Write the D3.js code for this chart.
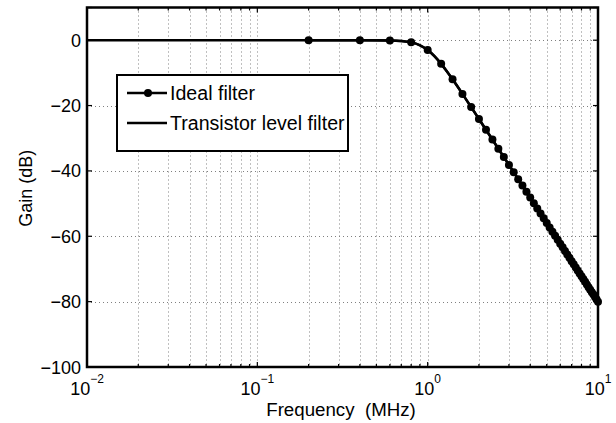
<!doctype html>
<html lang="en">
<head>
  <meta charset="utf-8">
  <title>Filter gain</title>
</head>
<style>
html, body, svg {
    margin: 0;
    padding: 0;
    border: 0;
    background: #fff;
}
text {
    font-family: "Liberation Sans", Arial, sans-serif;
}
</style>
<body>
<svg id="chart"></svg>
<script src="https://d3js.org/d3.v7.min.js"></script>
<script type="text/javascript">
    // ideal filter (markers), every 0.2 MHz
    var ideal_freq = [0.2, 0.4, 0.6, 0.8, 1.0, 1.2, 1.4, 1.6, 1.8, 2.0,
      2.2, 2.4, 2.6, 2.8, 3.0, 3.2, 3.4, 3.6, 3.8, 4.0,
      4.2, 4.4, 4.6, 4.8, 5.0, 5.2, 5.4, 5.6, 5.8, 6.0,
      6.2, 6.4, 6.6, 6.8, 7.0, 7.2, 7.4, 7.6, 7.8, 8.0,
      8.2, 8.4, 8.6, 8.8, 9.0, 9.2, 9.4, 9.6, 9.8, 10];
    var ideal_gain = [0.0, -0.003, -0.07, -0.67, -3.01, -7.24, -11.98, -16.43, -20.46, -24.10,
      -27.40, -30.42, -33.20, -35.77, -38.17, -40.41, -42.52, -44.50, -46.38, -48.16,
      -49.86, -51.48, -53.02, -54.50, -55.92, -57.28, -58.59, -59.85, -61.07, -62.25,
      -63.39, -64.50, -65.56, -66.60, -67.61, -68.59, -69.54, -70.46, -71.37, -72.25,
      -73.10, -73.94, -74.76, -75.56, -76.34, -77.10, -77.85, -78.58, -79.30, -80.0];

    // transistor level filter (plain line)
    var trans_freq = [0.01, 0.05, 0.1, 0.2, 0.3, 0.4, 0.5, 0.6, 0.7, 0.8, 0.9, 1.0,
      1.1, 1.2, 1.3, 1.4, 1.6, 1.8, 2.0, 2.5, 3.0, 4.0, 5.0, 6.0, 7.0, 8.0, 9.0, 10];
    var trans_gain = [0, 0, 0, 0, -0.0003, -0.003, -0.017, -0.07, -0.24, -0.67, -1.56, -3.01,
      -4.97, -7.24, -9.62, -11.98, -16.43, -20.46, -24.10, -31.84, -38.17, -48.16, -55.92, -62.25, -67.61, -72.25, -76.34, -80.0];

    var y_ticks = [-100, -80, -60, -40, -20, 0];
    var y_grid = [-80, -60, -40, -20, 0];
    var x_decades = [0.01, 0.1, 1, 10];
    var x_labels = ["\u22122", "\u22121", "0", "1"];
    var legend_labels = ["Ideal filter", "Transistor level filter"];

    var w = 616, h = 423;
    var m = {left: 87, right: 598, top: 7.5, bottom: 367};
    var fs = 18;

    var svg = d3.select("#chart")
      .attr("width", w)
      .attr("height", h);

    var x = d3.scaleLog()
      .domain([0.01, 10])
      .range([m.left, m.right]);

    var y = d3.scaleLinear()
      .domain([-100, 10])
      .range([m.bottom, m.top]);

    // minor positions 2..9 per decade
    var minor = [];
    [0.01, 0.1, 1].forEach(function(d) {
      for (var k = 2; k <= 9; k++) minor.push(d * k);
    });

    var grid = svg.append("g")
      .attr("stroke", "#808080")
      .attr("stroke-width", 1)
      .attr("stroke-dasharray", "1,3");

    grid.selectAll("line.vx")
      .data(minor.concat([0.1, 1]))
      .enter().append("line")
      .attr("x1", function(d) { return Math.round(x(d)) + 0.5; })
      .attr("x2", function(d) { return Math.round(x(d)) + 0.5; })
      .attr("y1", m.top)
      .attr("y2", m.bottom);

    grid.selectAll("line.hy")
      .data(y_grid)
      .enter().append("line")
      .attr("x1", m.left)
      .attr("x2", m.right)
      .attr("y1", function(d) { return Math.round(y(d)) + 0.5; })
      .attr("y2", function(d) { return Math.round(y(d)) + 0.5; });

    // ticks (inward, all four sides)
    var ticks = svg.append("g").attr("stroke", "#000").attr("stroke-width", 1.2);
    ticks.selectAll("line.yl")
      .data(y_ticks.concat([10]))
      .enter().append("line")
      .attr("x1", m.left).attr("x2", m.left + 5)
      .attr("y1", function(d) { return y(d); })
      .attr("y2", function(d) { return y(d); });
    ticks.selectAll("line.yr")
      .data(y_ticks.concat([10]))
      .enter().append("line")
      .attr("x1", m.right).attr("x2", m.right - 5)
      .attr("y1", function(d) { return y(d); })
      .attr("y2", function(d) { return y(d); });
    ticks.selectAll("line.xb")
      .data(x_decades.concat(minor))
      .enter().append("line")
      .attr("x1", function(d) { return x(d); })
      .attr("x2", function(d) { return x(d); })
      .attr("y1", m.bottom)
      .attr("y2", function(d) { return m.bottom - (x_decades.indexOf(d) >= 0 ? 5 : 3); });
    ticks.selectAll("line.xt")
      .data(x_decades.concat(minor))
      .enter().append("line")
      .attr("x1", function(d) { return x(d); })
      .attr("x2", function(d) { return x(d); })
      .attr("y1", m.top)
      .attr("y2", function(d) { return m.top + (x_decades.indexOf(d) >= 0 ? 5 : 3); });

    // curves
    var line = d3.line()
      .x(function(d) { return x(d[0]); })
      .y(function(d) { return y(d[1]); })
      .curve(d3.curveMonotoneX);

    var trans_pts = trans_freq.map(function(f, i) { return [f, trans_gain[i]]; });
    var ideal_pts = ideal_freq.map(function(f, i) { return [f, ideal_gain[i]]; });

    svg.append("path")
      .datum(trans_pts)
      .attr("d", line)
      .attr("fill", "none")
      .attr("stroke", "#000")
      .attr("stroke-width", 2.5);

    svg.append("path")
      .datum(ideal_pts)
      .attr("d", line)
      .attr("fill", "none")
      .attr("stroke", "#000")
      .attr("stroke-width", 2.5);

    svg.selectAll("circle.ideal")
      .data(ideal_pts)
      .enter().append("circle")
      .attr("cx", function(d) { return x(d[0]); })
      .attr("cy", function(d) { return y(d[1]); })
      .attr("r", 4)
      .attr("fill", "#000");

    // frame
    svg.append("rect")
      .attr("x", m.left).attr("y", m.top)
      .attr("width", m.right - m.left).attr("height", m.bottom - m.top)
      .attr("fill", "none")
      .attr("stroke", "#000")
      .attr("stroke-width", 2.5);

    // y labels
    svg.selectAll("text.ylab")
      .data(y_ticks)
      .enter().append("text")
      .attr("x", m.left - 6)
      .attr("y", function(d) { return y(d) + 6.5; })
      .attr("text-anchor", "end")
      .attr("font-size", fs)
      .text(function(d) { return d < 0 ? "\u2212" + (-d) : d; });

    // x labels: 10^k
    var xl = svg.selectAll("text.xlab")
      .data(x_decades)
      .enter().append("text")
      .attr("x", function(d) { return x(d); })
      .attr("y", 395)
      .attr("text-anchor", "middle")
      .attr("font-size", fs);
    xl.append("tspan").text("10");
    xl.append("tspan")
      .attr("dy", -12)
      .attr("font-size", 12)
      .text(function(d, i) { return x_labels[i]; });

    svg.append("text")
      .attr("x", 341)
      .attr("y", 416)
      .attr("text-anchor", "middle")
      .attr("font-size", 18.7)
      .attr("xml:space", "preserve")
      .text("Frequency  (MHz)");

    svg.append("text")
      .attr("transform", "translate(32," + ((m.top + m.bottom) / 2 + 1) + ") rotate(-90)")
      .attr("text-anchor", "middle")
      .attr("font-size", fs)
      .text("Gain (dB)");

    // legend
    var lg = svg.append("g");
    lg.append("rect")
      .attr("x", 117).attr("y", 75)
      .attr("width", 231).attr("height", 76)
      .attr("fill", "#fff")
      .attr("stroke", "#000")
      .attr("stroke-width", 2);
    var rows = [93, 123];
    lg.selectAll("line.lg")
      .data(rows)
      .enter().append("line")
      .attr("x1", 127).attr("x2", 167)
      .attr("y1", function(d) { return d; })
      .attr("y2", function(d) { return d; })
      .attr("stroke", "#000")
      .attr("stroke-width", 2.5);
    lg.append("circle")
      .attr("cx", 148).attr("cy", rows[0])
      .attr("r", 4).attr("fill", "#000");
    lg.selectAll("text.lg")
      .data(legend_labels)
      .enter().append("text")
      .attr("x", 170)
      .attr("y", function(d, i) { return rows[i] + 7; })
      .attr("font-size", 19.6)
      .text(function(d) { return d; });
</script>
</body>
</html>
